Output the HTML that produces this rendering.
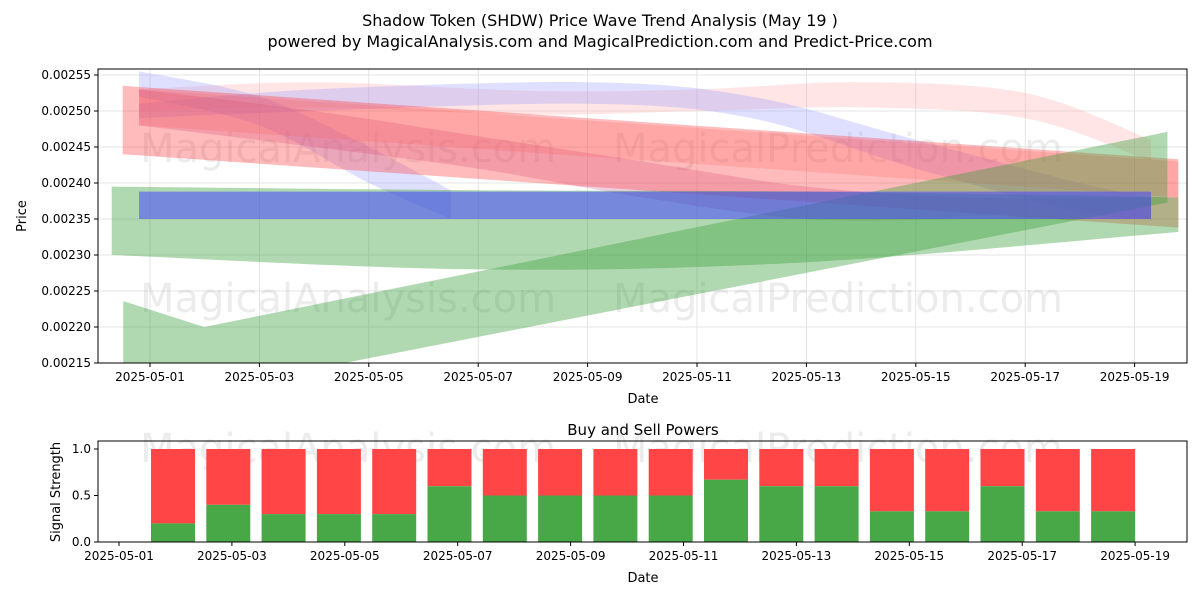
<!DOCTYPE html>
<html><head><meta charset="utf-8"><style>
body{margin:0;background:#fff;font-family:"Liberation Sans","DejaVu Sans",sans-serif}
svg text{font-family:"DejaVu Sans","Liberation Sans",sans-serif}
</style></head><body>
<svg id="c" width="1200" height="600" xmlns="http://www.w3.org/2000/svg">
<text x="600" y="26" text-anchor="middle" font-size="16">Shadow Token (SHDW) Price Wave Trend Analysis (May 19 )</text>
<text x="600" y="47" text-anchor="middle" font-size="16">powered by MagicalAnalysis.com and MagicalPrediction.com and Predict-Price.com</text>
<g id="top"></g><g id="bot"></g>
</svg>
<script>
// Top chart data (day offset from 2025-05-01, upper, lower)
const bandDays = [
 [-0.2,3,7,10,13,16,18.3],
 [-0.2,2,4,5.5],
 [-0.2,3,8,11,14,17,18.3],
 [-0.2,3,6,9,12,15,18.3],
 [-0.5,18.8],
 [-0.2,18.8],
 [-0.49,0.99,18.6],
 [-0.7,6,12,18.8],
 [-0.2,18.3]
];
const bandUpper = [
 [0.00253,0.00254,0.002528,0.00253,0.00254,0.002525,0.00246],
 [0.002555,0.00252,0.00245,0.00239],
 [0.00251,0.00253,0.00254,0.00252,0.00246,0.0024,0.00238],
 [0.00253,0.0025,0.002465,0.00243,0.002395,0.00238,0.00238],
 [0.002535,0.002433],
 [0.00253,0.00243],
 [0.002236,0.0022,0.002471],
 [0.002395,0.00239,0.002388,0.00238],
 [0.002388,0.002388]
];
const bandLower = [
 [0.0025,0.002505,0.002495,0.0025,0.002505,0.00249,0.00243],
 [0.00252,0.00248,0.0024,0.00235],
 [0.00249,0.0025,0.00251,0.00249,0.00242,0.00236,0.00235],
 [0.00248,0.00245,0.00242,0.00238,0.00235,0.00235,0.00235],
 [0.00244,0.002338],
 [0.00248,0.00238],
 [0.00209,0.002112,0.002373],
 [0.0023,0.00228,0.00229,0.002332],
 [0.00235,0.00235]
];
const bandCurve = [true,true,true,true,false,false,false,true,false];
const bandColors = ['rgba(255,170,170,0.3)','rgba(150,150,255,0.3)','rgba(150,150,255,0.3)','rgba(200,100,160,0.3)','rgba(255,60,60,0.35)','rgba(255,90,90,0.2)','rgba(60,160,60,0.4)','rgba(60,160,60,0.4)','rgba(70,70,255,0.55)'];
const yTicks = [0.00215,0.0022,0.00225,0.0023,0.00235,0.0024,0.00245,0.0025,0.00255];
const xTickDays = [0,2,4,6,8,10,12,14,16,18];
const xTickLabels = ['2025-05-01','2025-05-03','2025-05-05','2025-05-07','2025-05-09','2025-05-11','2025-05-13','2025-05-15','2025-05-17','2025-05-19'];
// Bottom chart data
const barDays = [1,2,3,4,5,6,7,8,9,10,11,12,13,14,15,16,17,18];
const buyVals = [0.2,0.4,0.3,0.3,0.3,0.6,0.5,0.5,0.5,0.5,0.67,0.6,0.6,0.33,0.33,0.6,0.33,0.33];
const bTicks = [0,0.5,1.0];
const bTickLabels = ['0.0','0.5','1.0'];

const NS='http://www.w3.org/2000/svg';
function mk(p,t,a){const e=document.createElementNS(NS,t);for(const k in a)e.setAttribute(k,a[k]);p.appendChild(e);return e;}
const T={l:98,r:1187,t:69,b:363};
const tx=d=>150+d*54.7, ty=v=>75+(0.00255-v)/0.00005*36;
const topG=document.getElementById('top');
mk(topG,'rect',{x:T.l,y:T.t,width:T.r-T.l,height:T.b-T.t,fill:'#fff'});
const cp=mk(topG,'clipPath',{id:'cpt'});mk(cp,'rect',{x:T.l,y:T.t,width:T.r-T.l,height:T.b-T.t});
xTickDays.forEach((d,i)=>{const x=tx(d);
 let g=mk(topG,'line',{x1:x,x2:x,y1:T.t,y2:T.b,stroke:'#ddd','stroke-width':0.8});
 
 mk(topG,'line',{x1:x,x2:x,y1:T.b,y2:T.b+4,stroke:'#000'});
 let t=mk(topG,'text',{x:x,y:T.b+18,'text-anchor':'middle','font-size':12});t.textContent=xTickLabels[i];
 });
yTicks.forEach(v=>{const y=ty(v);
 let g=mk(topG,'line',{x1:T.l,x2:T.r,y1:y,y2:y,stroke:'#ddd','stroke-width':0.8});
 
 mk(topG,'line',{x1:T.l-4,x2:T.l,y1:y,y2:y,stroke:'#000'});
 let t=mk(topG,'text',{x:T.l-7,y:y+4,'text-anchor':'end','font-size':12});t.textContent=v.toFixed(5);
 });
['MagicalAnalysis.com','MagicalPrediction.com'].forEach((s,i)=>{[150,300].forEach(y=>{
 let t=mk(topG,'text',{x:i?838:348,y:y+12,'text-anchor':'middle','font-size':40,fill:'rgba(180,180,180,0.25)'});t.textContent=s;
 });});
const bg=mk(topG,'g',{'clip-path':'url(#cpt)'});
function smooth(pts){
 let d='';for(let i=0;i<pts.length-1;i++){const p0=pts[Math.max(i-1,0)],p1=pts[i],p2=pts[i+1],p3=pts[Math.min(i+2,pts.length-1)];
 const c1=[p1[0]+(p2[0]-p0[0])/6,p1[1]+(p2[1]-p0[1])/6],c2=[p2[0]-(p3[0]-p1[0])/6,p2[1]-(p3[1]-p1[1])/6];
 d+=` C${c1} ${c2} ${p2}`;}return d;}
function straight(pts){return pts.slice(1).map(p=>` L${p}`).join('');}
bandDays.forEach((ds,i)=>{
 const up=ds.map((d,j)=>[tx(d),ty(bandUpper[i][j])]);
 const lo=ds.map((d,j)=>[tx(d),ty(bandLower[i][j])]).reverse();
 const f=bandCurve[i]?smooth:straight;
 const d=`M${up[0]}`+f(up)+` L${lo[0]}`+f(lo)+'Z';
 const p=mk(bg,'path',{d:d,fill:bandColors[i]});
 
 });
mk(topG,'rect',{x:T.l,y:T.t,width:T.r-T.l,height:T.b-T.t,fill:'none',stroke:'#000','stroke-width':1});
let t1=mk(topG,'text',{x:643,y:403,'text-anchor':'middle','font-size':13});t1.textContent='Date';

let t2=mk(topG,'text',{x:26,y:216,'text-anchor':'middle','font-size':13,transform:'rotate(-90 26 216)'});t2.textContent='Price';


// bottom
const B={l:98,r:1187,t:441,b:542};
const bx=d=>119+d*56.45, by=v=>542-v*93;
const barX=d=>173+(d-1)*55.3;
const botG=document.getElementById('bot');
let bt=mk(botG,'text',{x:643,y:435,'text-anchor':'middle','font-size':15});bt.textContent='Buy and Sell Powers';

['MagicalAnalysis.com','MagicalPrediction.com'].forEach((s,i)=>{
 let t=mk(botG,'text',{x:i?838:348,y:462,'text-anchor':'middle','font-size':40,fill:'rgba(180,180,180,0.25)'});t.textContent=s;
 });
barDays.forEach((d,i)=>{const x=barX(d)-22,v=buyVals[i];
 let r=mk(botG,'rect',{x:x,y:by(1),width:44,height:by(v)-by(1),fill:'#ff4545'});
 
 let g=mk(botG,'rect',{x:x,y:by(v),width:44,height:by(0)-by(v),fill:'#48a848'});
 });
mk(botG,'rect',{x:B.l,y:B.t,width:B.r-B.l,height:B.b-B.t,fill:'none',stroke:'#000'});
bTicks.forEach((v,i)=>{const y=by(v);mk(botG,'line',{x1:B.l-4,x2:B.l,y1:y,y2:y,stroke:'#000'});
 let t=mk(botG,'text',{x:B.l-7,y:y+4,'text-anchor':'end','font-size':12});t.textContent=bTickLabels[i];
 });
xTickDays.forEach((d,i)=>{const x=bx(d);mk(botG,'line',{x1:x,x2:x,y1:B.b,y2:B.b+4,stroke:'#000'});
 let t=mk(botG,'text',{x:x,y:B.b+18,'text-anchor':'middle','font-size':12});t.textContent=xTickLabels[i];
 });
let t3=mk(botG,'text',{x:643,y:582,'text-anchor':'middle','font-size':13});t3.textContent='Date';

let t4=mk(botG,'text',{x:60,y:492,'text-anchor':'middle','font-size':13,transform:'rotate(-90 60 492)'});t4.textContent='Signal Strength';

</script>
</body></html>
